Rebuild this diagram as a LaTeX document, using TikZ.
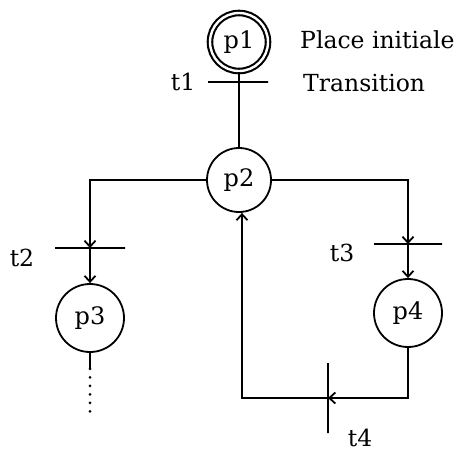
\documentclass[tikz,border=0pt]{standalone}
\usepackage{fontspec}
\setmainfont{DejaVu Serif}
\usepackage{tikz}
\usetikzlibrary{arrows.meta,positioning,calc}

\begin{document}
\begin{tikzpicture}[
x=1pt,y=-1pt,
place/.style={
draw,
circle,
line width=1.8pt,
minimum size=64pt,
inner sep=0pt,
font=\fontsize{24}{26}\selectfont
},
initplace/.style={
place,
double,
double distance=2.4pt,
line width=2.1pt,
minimum size=58pt
},
hbar/.style={
draw,
rectangle,
line width=1.5pt,
minimum height=0pt,
inner sep=0pt
},
vbar/.style={
draw,
rectangle,
line width=2.4pt,
minimum width=0pt,
inner sep=0pt
},
lbl/.style={
font=\fontsize{23.5}{26}\selectfont
},
arc/.style={
line width=1.8pt
},
arrow/.style={
-{Straight Barb[length=6pt,width=11pt]},
line width=1.8pt
}
]

\useasboundingbox (0,0) rectangle (468,451);

% places
\node[initplace] (p1) at (239,42) {p1};
\node[place] (p2) at (239,180) {p2};
\node[place, minimum size=68pt] (p3) at (90,318) {p3};
\node[place, minimum size=68pt] (p4) at (408,313) {p4};

% transitions
\node[hbar, minimum width=60pt] (t1) at (238,82) {};
\node[hbar, minimum width=70pt] (t2) at (90,248) {};
\node[hbar, minimum width=68pt] (t3) at (408,244) {};
\node[vbar, minimum height=70pt] (t4) at (328,398) {};

% texts
\node[lbl, anchor=west, inner sep=0pt] (initlbl) at (300,40) {Place initiale};
\node[lbl, anchor=west, inner sep=0pt] (translbl) at (303,83) {Transition};
\node[lbl] (t1lbl) at (183,82) {t1};
\node[lbl] (t2lbl) at (22,258) {t2};
\node[lbl] (t3lbl) at (342,253) {t3};
\node[lbl] (t4lbl) at (360,438) {t4};

\coordinate (p3end) at (90,418);

% arcs
\draw[arc] (p1.south) -- (p2.north);

\draw[arrow] (p2.west) -| (t2.center);
\draw[arrow] (t2.center) -- (p3.north);

\draw[arrow] (p2.east) -| (t3.center);
\draw[arrow] (t3.center) -- (p4.north);

\draw[arrow] (p4.south) |- (t4.center);
\draw[arrow] (t4.center) -| ([xshift=3pt]p2.south);

\draw[arc] (p3.south) -- ++(0,16) coordinate (p3dots);
\draw[line width=3pt, line cap=round, dash pattern=on 0pt off 8.5pt] (p3dots) -- (p3end);

\end{tikzpicture}
\end{document}
